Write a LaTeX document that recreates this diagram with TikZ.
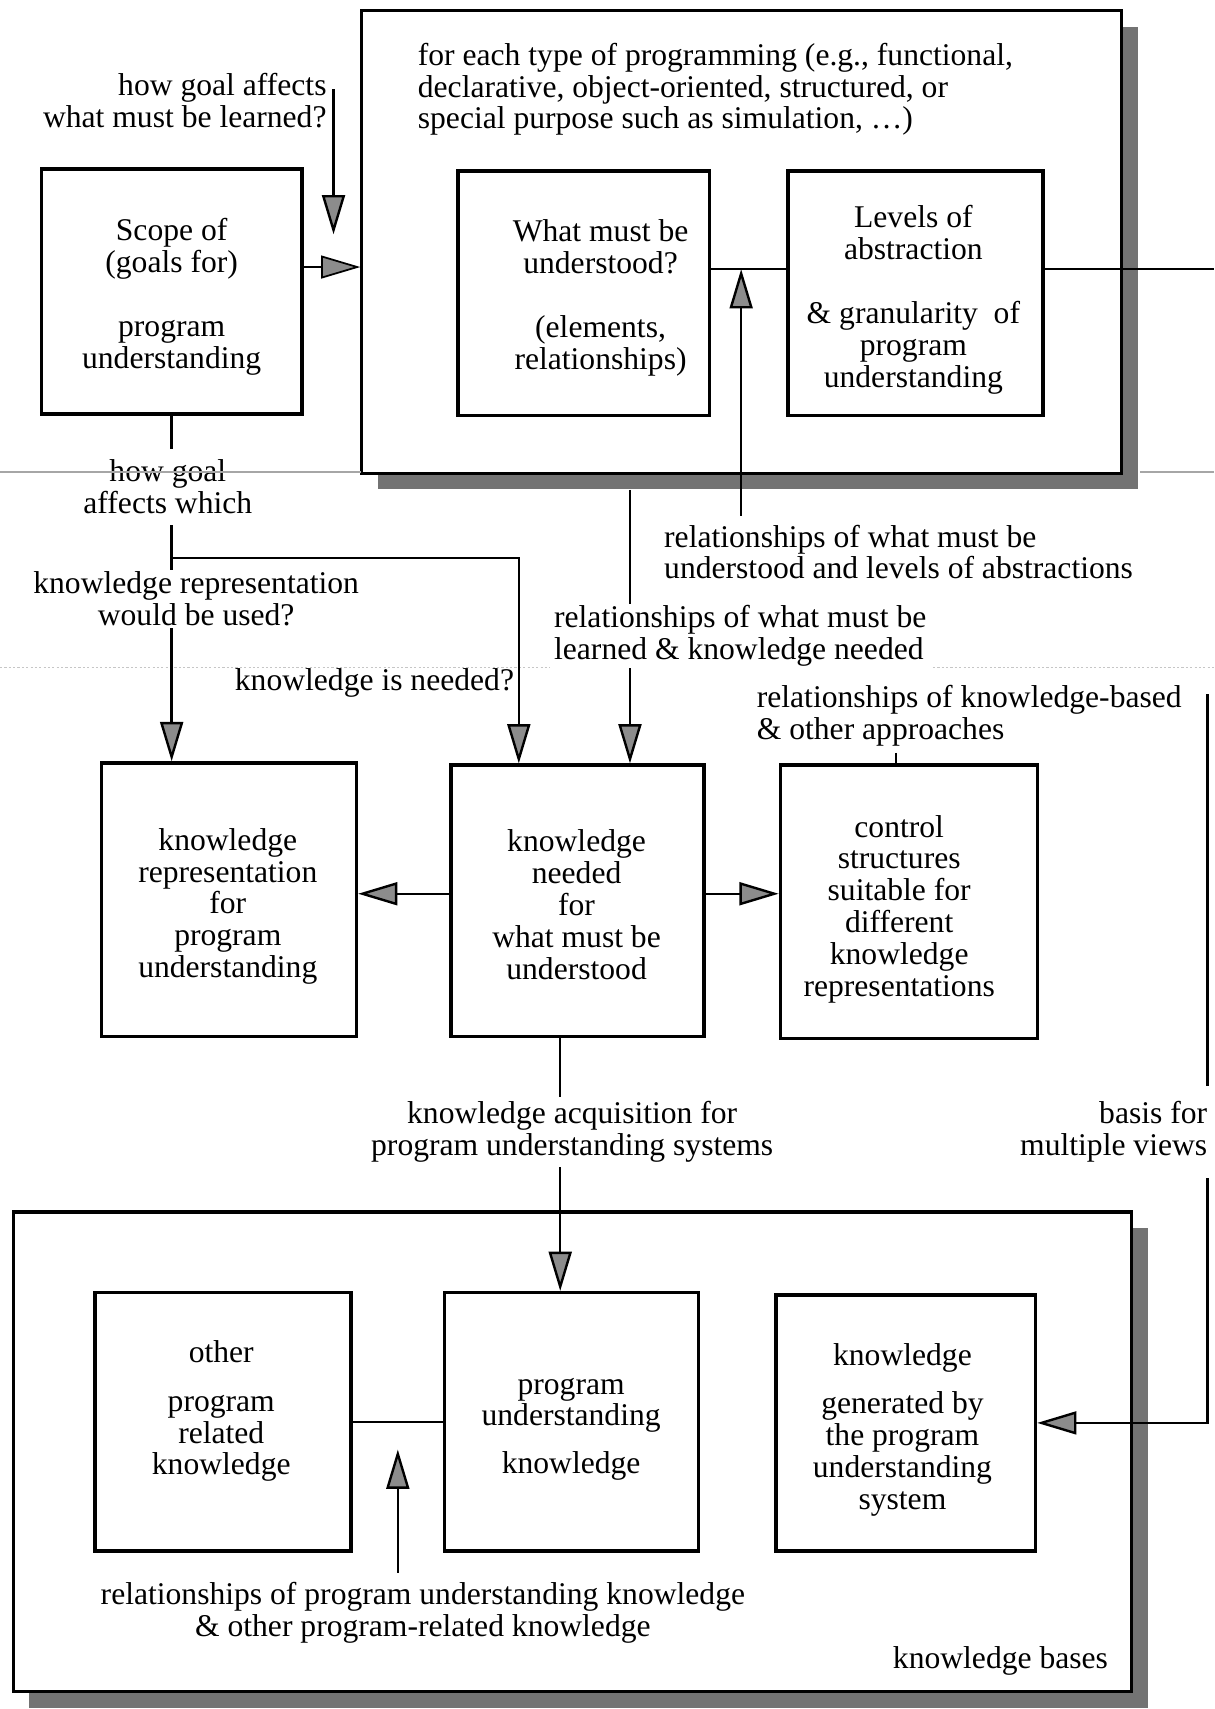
\documentclass[tikz,border=0pt]{standalone}
\usepackage{fontspec}
\setmainfont{Liberation Serif}
\usetikzlibrary{arrows.meta}
\newcommand{\diagfont}{\fontsize{14.5pt}{14.6pt}\selectfont}
\begin{document}
\begin{tikzpicture}[x=0.5pt,y=-0.5pt,
  dbox/.style={draw, line width=1.6pt, inner sep=0pt},
  cont/.style={draw, line width=1.4pt, fill=white, inner sep=0pt},
  boxshade/.style={fill=black!55, draw=none, inner sep=0pt},
  txt/.style={align=center, inner sep=0pt, font=\diagfont},
  lbl/.style={font=\diagfont, inner xsep=2pt, inner ysep=0pt},
  lblw/.style={lbl, fill=white},
  conn/.style={line width=1.1pt},
  thinln/.style={line width=0.8pt},
  arr/.style={conn, -{Triangle[length=18pt,width=10.5pt,fill=black!45]}}
]
\path[use as bounding box, fill=white] (0,0) rectangle (1114,1568);
% faint scan line
\draw[gray!45, line width=0.4pt, dash pattern=on 1pt off 1pt] (0,612) -- (1114,612);

% containers with shadows
\node[boxshade, minimum width=348.5pt, minimum height=212pt] (topsh) at (695.5,237) {};
\node[cont, minimum width=348.5pt, minimum height=212pt] (topc) at (680.5,222) {};
\node[boxshade, minimum width=513pt, minimum height=220pt] (botsh) at (540,1347) {};
\node[cont, minimum width=513pt, minimum height=220pt] (botc) at (525,1332) {};

% boxes
\node[dbox, minimum width=119.5pt, minimum height=112.5pt] (scope) at (157.5,267.5) {};
\node[dbox, minimum width=115.5pt, minimum height=112pt] (what) at (535.5,269) {};
\node[dbox, minimum width=117pt, minimum height=112pt] (levels) at (840,269) {};
\node[dbox, minimum width=117pt, minimum height=125.5pt] (kr) at (210,825.5) {};
\node[dbox, minimum width=116pt, minimum height=124.5pt] (needed) at (530,826.5) {};
\node[dbox, minimum width=118pt, minimum height=125.5pt] (control) at (834,827.5) {};
\node[dbox, minimum width=117.5pt, minimum height=118.5pt] (other) at (204.5,1304.5) {};
\node[dbox, minimum width=116.5pt, minimum height=118.5pt] (pu) at (524.5,1304.5) {};
\node[dbox, minimum width=119pt, minimum height=117.5pt] (gen) at (831,1305.5) {};

% box texts
\node[txt] (scopeT) at (157.5,272.5) {Scope of\\(goals for)\\[15pt]program\\understanding};
\node[txt] (whatT) at (551,273.5) {What must be\\understood?\\[15pt](elements,\\relationships)};
\node[txt] (levelsT) at (838,275) {Levels of\\abstraction\\[15pt]\&~granularity\ \ of\\program\\understanding};
\node[txt] (krT) at (209,831.5) {knowledge\\representation\\for\\program\\understanding};
\node[txt] (neededT) at (529,830) {knowledge\\needed\\for\\what must be\\understood};
\node[txt] (controlT) at (825,834) {control\\structures\\suitable for\\different\\knowledge\\representations};
\node[txt] (otherT) at (203,1294.5) {other\\[8pt]program\\related\\knowledge};
\node[txt] (puT) at (524,1311) {program\\understanding\\[7pt]knowledge};
\node[txt] (genT) at (828,1312) {knowledge\\[7.5pt]generated by\\the program\\understanding\\system};

% plain labels
\node[lbl, align=right, anchor=east] (labA) at (304,92.5) {how goal affects\\what must be learned?};
\node[lbl, align=left, anchor=west] (labTop) at (379,82) {for each type of programming (e.g., functional,\\declarative, object-oriented, structured, or\\special purpose such as simulation, …)};
\node[lbl, align=left, anchor=west, inner ysep=4pt] (labE) at (605,506.5) {relationships of what must be\\understood and levels of abstractions};
\node[lbl, align=left, anchor=west, inner ysep=3pt] (labG) at (690,656.5) {relationships of knowledge-based\\\& other approaches};
\node[lbl, align=center, inner ysep=4pt] (labJ) at (388,1479.5) {relationships of program understanding knowledge\\\& other program-related knowledge};
\node[lbl, anchor=east] (labK) at (1021,1524) {knowledge bases};
\node[lbl, anchor=east] (labD) at (476,627) {knowledge is needed?};

% helper coordinates
\coordinate (y245) at (0,245);
\coordinate (y247) at (0,247);
\coordinate (y820) at (0,820);
\coordinate (q1s) at (306,82);
\coordinate (q1e) at (306,215);
\coordinate (br) at (157.5,512);
\coordinate (x476) at (476,0);
\coordinate (x578) at (578,0);
\coordinate (x680) at (680,0);
\coordinate (x822) at (822,0);
\coordinate (x514) at (514,0);
\coordinate (x365) at (365,0);
\coordinate (j247) at (680,247);
\coordinate (redge) at (1114,247);
\coordinate (rv) at (1108,637);
\coordinate (q11e) at (365,1330);

% connectors
\draw[arr] (q1s) -- (q1e);
\draw[arr, thinln] (scope.east |- y245) -- (topc.west |- y245);
\draw[thinln] (what.east |- y247) -- (levels.west |- y247);
\draw[thinln] (levels.east |- y247) -- (redge);
\draw[arr] (labE.north -| x680) -- (j247);
\draw[conn] (scope.south) -- (br);
\draw[arr] (br) -- (br |- kr.north);
\draw[arr] (br) -| (x476 |- needed.north);
\draw[arr] (topsh.south -| x578) -- (x578 |- needed.north);
\draw[arr] (needed.west |- y820) -- (kr.east |- y820);
\draw[arr] (needed.east |- y820) -- (control.west |- y820);
\draw[conn] (labG.south -| x822) -- (x822 |- control.north);
\draw[arr] (x514 |- needed.south) -- (x514 |- pu.north);
\draw[thinln] (other) -- (pu);
\draw[arr] (labJ.north -| x365) -- (q11e);
\draw[arr] (rv) |- (gen.east);

% labels that interrupt connectors
\node[lblw, align=center, inner ysep=5pt] (labB) at (154,446.5) {how goal\\affects which};
\node[lblw, align=center, inner ysep=1pt] (labC) at (180,549.5) {knowledge representation\\would be used?};
\node[lblw, align=left, anchor=west, inner ysep=0.5pt] (labF) at (504,583.5) {relationships of what must be\\learned \& knowledge needed};
\node[lblw, align=center, inner ysep=2pt] (labH) at (525,1038.5) {knowledge acquisition for\\program understanding systems};
\node[lblw, align=right, anchor=east, inner ysep=7pt] (labI) at (1112,1038.5) {basis for\\multiple views};

% scan line across the page
\draw[gray!70, line width=0.6pt] (0,433) -- (331,433);
\draw[gray!70, line width=0.6pt] (1046,433) -- (1114,433);
\end{tikzpicture}
\end{document}
